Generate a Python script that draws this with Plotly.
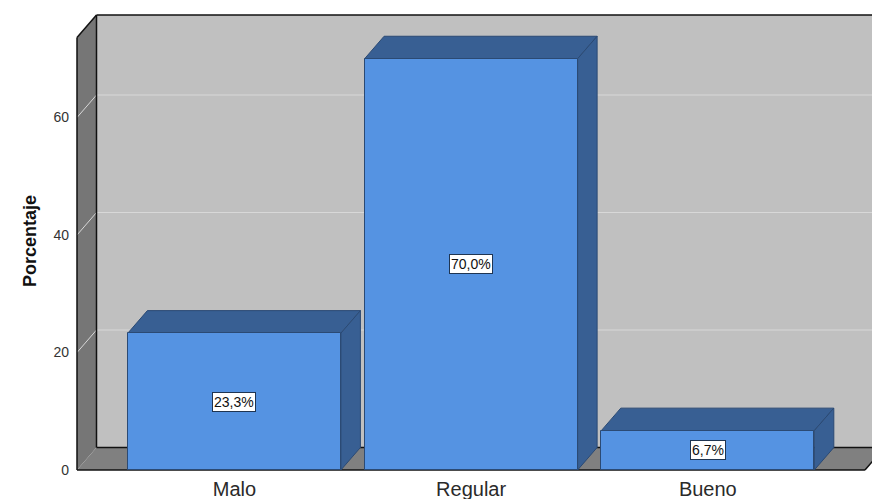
import plotly.graph_objects as go

# ---- data ----
categorias = ["Malo", "Regular", "Bueno"]
porcentajes = [23.3, 70.0, 6.7]
etiquetas = ["23,3%", "70,0%", "6,7%"]
y_ticks = [0, 20, 40, 60]

# ---- figure / 3D-box geometry (pixels -> axis units) ----
W, H = 872, 499
ML, MR, MT, MB = 70, 0, 8, 24
PX_CAT = 236.7            # pixels per category step
PX_UNIT = 5.875           # pixels per percentage point
AXIS_PX = 77              # left front edge of the box
BASE_PX = 470             # front baseline (0 %)

x0 = -0.665 - (AXIS_PX - ML) / PX_CAT
x1 = x0 + (W - ML - MR) / PX_CAT
y0 = -(H - MB - BASE_PX) / PX_UNIT
y1 = y0 + (H - MT - MB) / PX_UNIT

DX = 19.5 / PX_CAT        # depth offset, x
DY = 22.5 / PX_UNIT       # depth offset, y
WALL_H = 73.6             # height of the box walls (front)
FX0, FX1 = -0.665, 2.664  # floor extent (front)
HALF = 0.45               # half bar width

C_BACK = "#c0c0c0"
C_SIDE = "#767676"
C_FLOOR = "#808080"
C_GRID = "#d8d8d8"
C_BAR = "#5593e2"
C_BAR_DARK = "#385f93"
C_BAR_EDGE = "#2b4a74"


def poly(pts):
    return "M " + " L ".join(f"{x},{y}" for x, y in pts) + " Z"


shapes = []
# back wall
shapes.append(dict(type="path", path=poly([(FX0 + DX, DY), (FX0 + DX, WALL_H + DY),
                                           (x1 + 1, WALL_H + DY), (x1 + 1, DY)]),
                   fillcolor=C_BACK, line=dict(width=0), layer="below"))
# gridlines on back wall and left wall
for t in y_ticks[1:]:
    shapes.append(dict(type="line", x0=FX0 + DX, y0=t + DY, x1=x1 + 1, y1=t + DY,
                       line=dict(color=C_GRID, width=1), layer="below"))
# left wall
shapes.append(dict(type="path", path=poly([(FX0, 0), (FX0, WALL_H), (FX0 + DX, WALL_H + DY),
                                           (FX0 + DX, DY)]),
                   fillcolor=C_SIDE, line=dict(width=0), layer="below"))
for t in y_ticks[1:]:
    shapes.append(dict(type="line", x0=FX0, y0=t, x1=FX0 + DX, y1=t + DY,
                       line=dict(color=C_GRID, width=1), layer="below"))
# floor
shapes.append(dict(type="path", path=poly([(FX0, 0), (FX0 + DX, DY), (FX1 + DX, DY), (FX1, 0)]),
                   fillcolor=C_FLOOR, line=dict(width=0), layer="below"))
# box edges
edge = dict(color="#111111", width=1.5)
for (ax, ay, bx, by) in [
    (FX0, 0, FX0, WALL_H),
    (FX0, WALL_H, FX0 + DX, WALL_H + DY),
    (FX0 + DX, WALL_H + DY, x1 + 1, WALL_H + DY),
    (FX0 + DX, WALL_H + DY, FX0 + DX, DY),
    (FX0 + DX, DY, FX1 + DX, DY),
    (FX0, 0, FX1, 0),
    (FX1, 0, FX1 + DX, DY),
]:
    shapes.append(dict(type="line", x0=ax, y0=ay, x1=bx, y1=by, line=edge, layer="below"))

# bar tops and sides
for i, v in enumerate(porcentajes):
    l, r = i - HALF, i + HALF
    shapes.append(dict(type="path", path=poly([(l, v), (l + DX, v + DY), (r + DX, v + DY), (r, v)]),
                       fillcolor=C_BAR_DARK, line=dict(color=C_BAR_EDGE, width=1), layer="below"))
    shapes.append(dict(type="path", path=poly([(r, 0), (r, v), (r + DX, v + DY), (r + DX, DY)]),
                       fillcolor=C_BAR_DARK, line=dict(color=C_BAR_EDGE, width=1), layer="below"))

fig = go.Figure()
fig.add_trace(go.Bar(
    x=list(range(len(categorias))), y=porcentajes, width=2 * HALF,
    marker=dict(color=C_BAR, line=dict(color=C_BAR_EDGE, width=1)),
    hoverinfo="skip", showlegend=False,
))

annotations = []
for i, (v, txt) in enumerate(zip(porcentajes, etiquetas)):
    annotations.append(dict(x=i, y=v / 2, xref="x", yref="y", text=txt, showarrow=False,
                            font=dict(family="Liberation Sans", size=14, color="#111111"),
                            bgcolor="white", bordercolor="#1f3552", borderwidth=1, borderpad=1))
annotations.append(dict(x=0, y=(H - MB - 241) / (H - MT - MB), xref="paper", yref="paper",
                        xshift=-(ML - 18), text="<b>Porcentaje</b>", textangle=-90,
                        showarrow=False,
                        font=dict(family="Liberation Sans", size=18, color="#111111")))

fig.update_layout(
    width=W, height=H,
    margin=dict(l=ML, r=MR, t=MT, b=MB),
    paper_bgcolor="white", plot_bgcolor="white",
    shapes=shapes, annotations=annotations,
    xaxis=dict(range=[x0, x1], tickvals=list(range(len(categorias))), ticktext=categorias,
               showgrid=False, zeroline=False, showline=False, ticks="",
               tickfont=dict(family="Liberation Sans", size=20, color="#2a2a2a"),
               ticklabelstandoff=0, fixedrange=True),
    yaxis=dict(range=[y0, y1], tickvals=y_ticks, ticktext=[str(t) for t in y_ticks],
               showgrid=False, zeroline=False, showline=False, ticks="",
               tickfont=dict(family="Liberation Sans", size=14, color="#333333"),
               ticklabelstandoff=0, fixedrange=True),
    bargap=0,
)

fig.write_html("out.html")
